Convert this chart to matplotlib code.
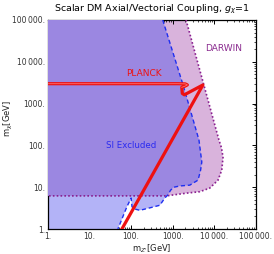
import matplotlib
matplotlib.use("Agg")
import matplotlib.pyplot as plt
from matplotlib.patches import Polygon
from matplotlib.ticker import FixedLocator, FixedFormatter, LogLocator, NullFormatter
import numpy as np

# SI excluded region boundary (m_Z' [GeV], m_chi [GeV])
si_mz = [1, 575, 1780, 4270, 5000, 4680, 4070, 2570, 1480, 1070, 890, 760,
         645, 490, 280, 162, 123, 105, 100, 79, 63, 48, 1]
si_mchi = [1e5, 1e5, 2750, 135, 40, 25.7, 14.8, 11.2, 10.7, 10, 8.5, 6.5,
           5.5, 3.7, 3.2, 2.8, 3.0, 3.4, 5.5, 3.4, 1.95, 1, 1]

# DARWIN projected region
dw_mz = [1, 2090, 12900, 14800, 16200, 15100, 12300, 7760, 4470, 2140, 1000, 710, 1]
dw_mchi = [1e5, 1e5, 135, 89, 52, 25.7, 14.8, 9.5, 7.8, 7.2, 6.5, 6.2, 6.2]

# PLANCK relic density contour
pl_mz = [1, 1330, 2000, 2250, 1950, 1650, 1700, 1900, 5320, 60]
pl_mchi = [2990, 2990, 2960, 2800, 2600, 2450, 1750, 1620, 2790, 1]

tick_vals = [1, 10, 100, 1000, 10000, 100000]
tick_labels = ["1.", "10.", "100.", "1000.", "10\u2009000.", "100\u2009000."]

fig = plt.figure(figsize=(2.74, 2.54), dpi=100)
ax = fig.add_axes([0.175, 0.0984, 0.759, 0.823])
ax.set_xscale("log")
ax.set_yscale("log")
ax.set_xlim(1, 1e5)
ax.set_ylim(1, 1e5)

dw = Polygon(np.column_stack([dw_mz, dw_mchi]), closed=True,
             facecolor="#d9b3dc", edgecolor="none", zorder=1)
ax.add_patch(dw)
si = Polygon(np.column_stack([si_mz, si_mchi]), closed=True,
             facecolor="#b3b3f7", edgecolor="none", zorder=2)
ax.add_patch(si)
both = Polygon(np.column_stack([si_mz, si_mchi]), closed=True,
               facecolor="#9b87e1", edgecolor="none", zorder=3)
ax.add_patch(both)
both.set_clip_path(dw)

# boundaries
ax.plot(dw_mz[1:], dw_mchi[1:], color="#8a1f8f", ls=(0, (1, 1.3)), lw=1.2, zorder=4)
ax.plot(si_mz[1:-1], si_mchi[1:-1], color="#1f2ff0", ls=(0, (3, 2)), lw=1.0, zorder=4)

ax.plot(pl_mz, pl_mchi, color="#ee1111", lw=2.3, zorder=5, solid_joinstyle="round")
ax.plot(pl_mz[:6], pl_mchi[:6], color="#ff7070", lw=0.6, zorder=6)

ax.text(205, 5100, "PLANCK", color="#ee1111", fontsize=6.5, ha="center", va="center")
ax.text(16500, 21000, "DARWIN", color="#8a2a8f", fontsize=6.5, ha="center", va="center")
ax.text(100, 102, "SI Excluded", color="#2a2af0", fontsize=6.2, ha="center", va="center")

for axis in (ax.xaxis, ax.yaxis):
    axis.set_major_locator(FixedLocator(tick_vals))
    axis.set_major_formatter(FixedFormatter(tick_labels))
    axis.set_minor_locator(LogLocator(base=10, subs=np.arange(2, 10)))
    axis.set_minor_formatter(NullFormatter())
ax.tick_params(which="both", direction="in", top=True, right=True,
               labelsize=5.5, labelcolor="#333333", pad=2)
ax.tick_params(which="major", length=3, width=0.7)
ax.tick_params(which="minor", length=1.5, width=0.5)
for s in ax.spines.values():
    s.set_linewidth(0.9)

ax.set_xlabel("m$_{Z'}$[GeV]", fontsize=6, labelpad=1, color="#222222")
ax.set_ylabel("m$_\\chi$[GeV]", fontsize=6, color="#222222")
ax.yaxis.set_label_coords(-0.16, 0.53)
fig.text(0.555, 0.962, "Scalar DM Axial/Vectorial Coupling, $g_\\chi$=1",
         fontsize=6.8, ha="center", va="center")

fig.savefig("out.png", dpi=100)
